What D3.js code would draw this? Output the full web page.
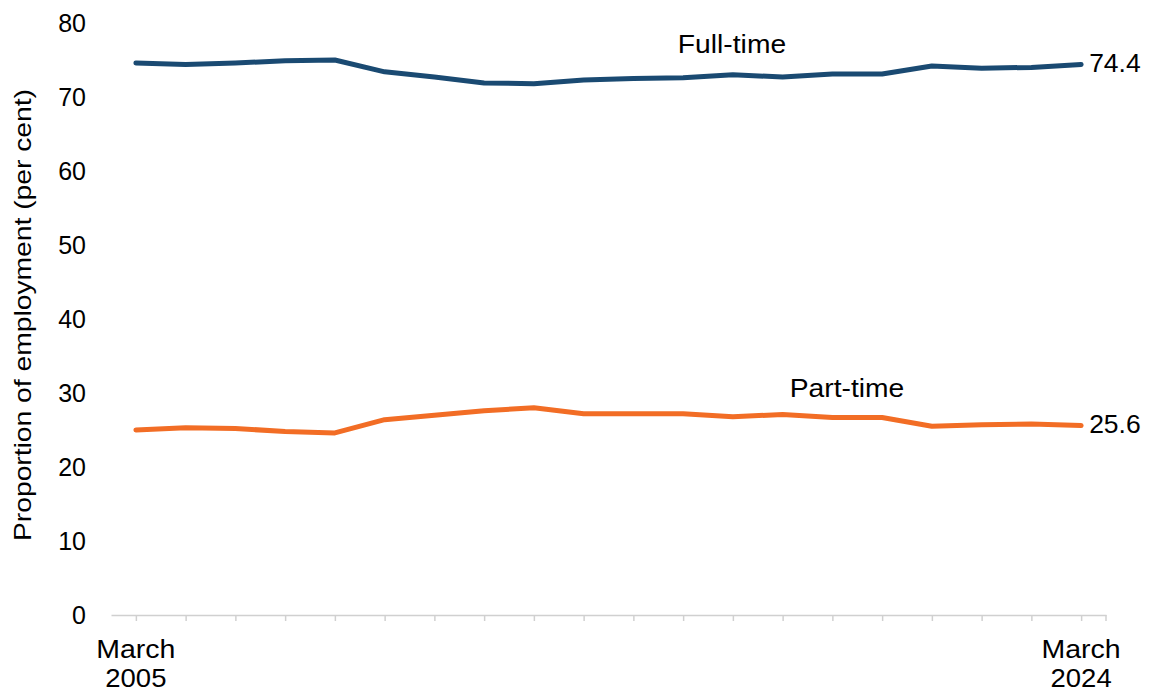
<!DOCTYPE html>
<html>
<head>
<meta charset="utf-8">
<script src="https://cdn.jsdelivr.net/npm/d3@7"></script>
<style>
  body { margin: 0; background: #fff; }
  text { font-family: "Liberation Sans", Arial, sans-serif; fill: #000; }
</style>
</head>
<body>
<svg id="chart"></svg>
<script>
// years on the x axis (March of each year)
var years = ["2005","2006","2007","2008","2009","2010","2011","2012","2013","2014",
             "2015","2016","2017","2018","2019","2020","2021","2022","2023","2024"];
// proportion of employment, per cent
var fullTime = [74.6, 74.4, 74.6, 74.9, 75.0, 73.4, 72.7, 71.9, 71.8, 72.3,
                72.5, 72.6, 73.0, 72.7, 73.1, 73.1, 74.2, 73.9, 74.0, 74.4];
var partTime = [25.0, 25.3, 25.2, 24.8, 24.6, 26.4, 27.0, 27.6, 28.0, 27.2,
                27.2, 27.2, 26.8, 27.1, 26.7, 26.7, 25.5, 25.7, 25.8, 25.6];
var yTicks = [0, 10, 20, 30, 40, 50, 60, 70, 80];

var w = 1151;
var h = 693;

var svg = d3.select("#chart")
            .attr("width", w)
            .attr("height", h);

// widen a text a little (the original font is set wider)
function widen(sel, k) {
    sel.each(function() {
        var len = this.getComputedTextLength();
        d3.select(this)
            .attr("textLength", len * k)
            .attr("lengthAdjust", "spacingAndGlyphs");
    });
}

//scales
var xScale = d3.scalePoint()
               .domain(years)
               .range([111, 1106])
               .padding(0.5);

var yScale = d3.scaleLinear()
               .domain([0, 80])
               .range([615, 23]);

//x axis: grey line with a tick at each year
var xAxis = d3.axisBottom(xScale)
              .tickSize(6)
              .tickSizeOuter(0)
              .tickFormat("");

var xg = svg.append("g")
    .attr("transform", "translate(0," + yScale(0) + ")")
    .call(xAxis);
xg.select(".domain").attr("stroke", "#d0d0d0").attr("stroke-width", 1.5);
xg.selectAll(".tick line").attr("stroke", "#d0d0d0").attr("stroke-width", 1.5);
// closing tick at the end of the axis
xg.append("line")
    .attr("x1", xScale.range()[1]).attr("x2", xScale.range()[1])
    .attr("y1", 0).attr("y2", 6)
    .attr("stroke", "#d0d0d0").attr("stroke-width", 1.5);

// first and last year labels
[years[0], years[years.length - 1]].forEach(function(yr) {
    var m = svg.append("text")
        .attr("text-anchor", "middle")
        .attr("font-size", 25)
        .attr("x", xScale(yr))
        .attr("y", 658)
        .text("March");
    widen(m, 1.14);
    var y = svg.append("text")
        .attr("text-anchor", "middle")
        .attr("font-size", 25)
        .attr("x", xScale(yr))
        .attr("y", 687)
        .text(yr);
    widen(y, 1.1);
});

//y axis labels, no axis line
var yAxis = d3.axisLeft(yScale)
              .tickValues(yTicks)
              .tickSize(0)
              .tickPadding(0);

var yg = svg.append("g")
    .attr("transform", "translate(86,0)")
    .call(yAxis);
yg.select(".domain").remove();
yg.selectAll(".tick text")
    .attr("font-size", 25)
    .attr("font-family", "Liberation Sans, Arial, sans-serif")
    .attr("fill", "#000");

// y axis title
svg.append("text")
    .attr("text-anchor", "middle")
    .attr("transform", "rotate(-90)")
    .attr("x", -315)
    .attr("y", 31)
    .attr("font-size", 24)
    .attr("textLength", 452)
    .attr("lengthAdjust", "spacingAndGlyphs")
    .text("Proportion of employment (per cent)");

//lines
var line = d3.line()
    .x(function(d, i) { return xScale(years[i]); })
    .y(function(d) { return yScale(d); });

svg.append("path")
    .datum(fullTime)
    .attr("fill", "none")
    .attr("stroke", "#1a4a72")
    .attr("stroke-width", 5)
    .attr("stroke-linecap", "round")
    .attr("stroke-linejoin", "round")
    .attr("d", line);

svg.append("path")
    .datum(partTime)
    .attr("fill", "none")
    .attr("stroke", "#f26d25")
    .attr("stroke-width", 5)
    .attr("stroke-linecap", "round")
    .attr("stroke-linejoin", "round")
    .attr("d", line);

// series labels
var ft = svg.append("text")
    .attr("x", 732).attr("y", 53)
    .attr("text-anchor", "middle")
    .attr("font-size", 25)
    .text("Full-time");
widen(ft, 1.13);

var pt = svg.append("text")
    .attr("x", 847).attr("y", 397)
    .attr("text-anchor", "middle")
    .attr("font-size", 25)
    .text("Part-time");
widen(pt, 1.13);

// end values
var last = years.length - 1;
var f = svg.append("text")
    .attr("x", xScale(years[last]) + 8)
    .attr("y", yScale(fullTime[last]))
    .attr("dy", "0.3em")
    .attr("font-size", 25)
    .text(fullTime[last].toFixed(1));
widen(f, 1.06);

var p = svg.append("text")
    .attr("x", xScale(years[last]) + 8)
    .attr("y", yScale(partTime[last]))
    .attr("dy", "0.3em")
    .attr("font-size", 25)
    .text(partTime[last].toFixed(1));
widen(p, 1.06);
</script>
</body>
</html>
